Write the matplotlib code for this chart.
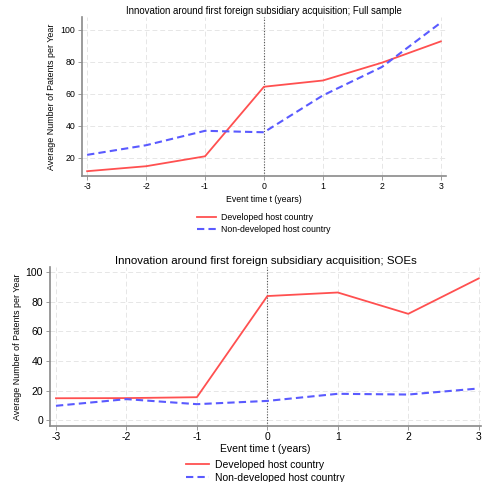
import numpy as np
import matplotlib
matplotlib.use("Agg")
import matplotlib.pyplot as plt
from matplotlib import rcParams

rcParams['font.family'] = 'sans-serif'
rcParams['font.sans-serif'] = ['Liberation Sans']
rcParams['axes.unicode_minus'] = False

event_time = [-3, -2, -1, 0, 1, 2, 3]

# Full sample
full_developed = [11.7, 14.8, 21.0, 64.4, 68.3, 79.4, 92.7]
full_nondeveloped = [21.9, 27.9, 36.9, 36.0, 59.0, 76.7, 104.4]

# SOEs
soe_developed = [14.8, 14.9, 15.5, 83.8, 86.2, 71.8, 95.7]
soe_nondeveloped = [9.7, 14.2, 10.8, 13.0, 17.8, 17.3, 21.4]

titles = ["Innovation around first foreign subsidiary acquisition; Full sample",
          "Innovation around first foreign subsidiary acquisition; SOEs"]
labels = ["Developed host country", "Non-developed host country"]

RED = "#ff5050"
BLUE = "#5a5aff"
SPINE = "#8a8a8a"


def draw_panel(ax, dev, nondev, title, xlim, ylim, yticks, legend_y, title_pad, fs,
               xlabel_pad, spacing):
    ax.plot(event_time, dev, color=RED, lw=1.3, label=labels[0])
    ax.plot(event_time, nondev, color=BLUE, lw=1.5, ls=(0, (3.5, 2)), label=labels[1])
    ax.axvline(0, color="#555555", lw=0.8, ls=(0, (1, 1.5)), zorder=1)
    ax.set_xlim(*xlim)
    ax.set_ylim(*ylim)
    ax.set_xticks(event_time)
    ax.set_yticks(yticks)
    ax.grid(True, color="#e6e6e6", lw=0.7, ls=(0, (5, 3)))
    ax.set_axisbelow(True)
    for s in ["top", "right"]:
        ax.spines[s].set_visible(False)
    for s in ["left", "bottom"]:
        ax.spines[s].set_color(SPINE)
        ax.spines[s].set_linewidth(1.2)
    ax.tick_params(labelsize=fs, length=3, width=0.6, color=SPINE, pad=2)
    ax.tick_params(axis="x", pad=1.5)
    ax.set_title(title, fontsize=fs * 1.1, pad=title_pad)
    ax.set_xlabel("Event time t (years)", fontsize=fs, labelpad=xlabel_pad)
    ax.set_ylabel("Average Number of Patents per Year", fontsize=6.4, labelpad=3)
    ax.legend(loc="upper center", bbox_to_anchor=(0.5, legend_y), frameon=False,
              fontsize=fs, handlelength=2.15, labelspacing=spacing, handletextpad=0.6,
              borderpad=0.2)


fig = plt.figure(figsize=(4.83, 4.82), dpi=100)

ax1 = fig.add_axes([0.170, 0.635, 0.753, 0.330])
draw_panel(ax1, full_developed, full_nondeveloped, titles[0],
           (-3.085, 3.085), (8.75, 108), [20, 40, 60, 80, 100], -0.193, 2.0, 6.3,
           3, 0.42)

ax2 = fig.add_axes([0.1035, 0.116, 0.892, 0.330])
draw_panel(ax2, soe_developed, soe_nondeveloped, titles[1],
           (-3.085, 3.03), (-4, 103.4), [0, 20, 40, 60, 80, 100], -0.168, 2.0, 7.5,
           1, 0.25)

fig.savefig("out.png", dpi=100)
